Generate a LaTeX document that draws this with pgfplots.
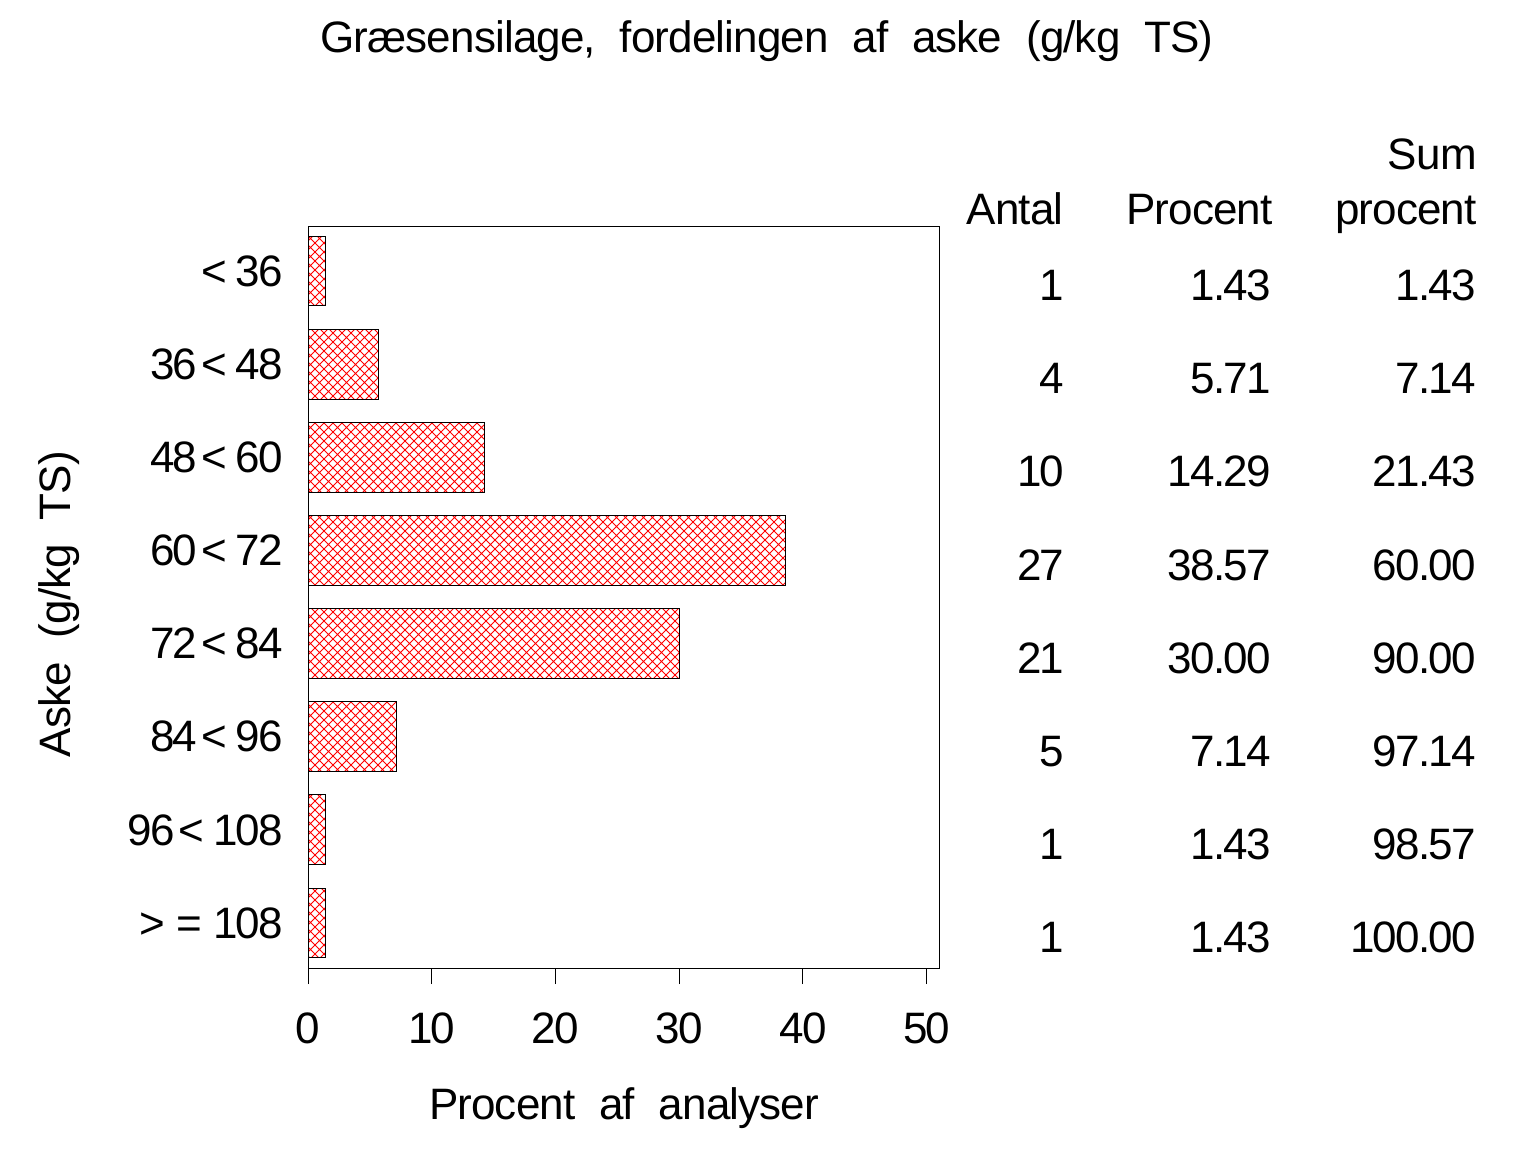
\documentclass[border=0pt]{standalone}
\usepackage{fontspec}
\setmainfont{Liberation Sans}[WordSpace=2.1, LetterSpace=-2]
\newfontfamily\numfont{Liberation Sans}[WordSpace=2.1, LetterSpace=-4]
\usepackage{pgfplots}
\pgfplotsset{compat=1.18}
\usepackage{pgfplotstable}
\usetikzlibrary{patterns}
\pgfdeclarepatternformonly{diagcross}{\pgfqpoint{-0.5pt}{-0.5pt}}{\pgfqpoint{5pt}{5pt}}{\pgfqpoint{4.5pt}{4.5pt}}{%
\pgfsetlinewidth{0.45pt}%
\pgfpathmoveto{\pgfqpoint{-0.2pt}{-0.2pt}}\pgfpathlineto{\pgfqpoint{4.7pt}{4.7pt}}%
\pgfpathmoveto{\pgfqpoint{-0.2pt}{4.7pt}}\pgfpathlineto{\pgfqpoint{4.7pt}{-0.2pt}}%
\pgfusepath{stroke}}

\pgfplotstableread{
idx pct antal pcts cum
0 1.43 1 1.43 1.43
1 5.71 4 5.71 7.14
2 14.29 10 14.29 21.43
3 38.57 27 38.57 60.00
4 30.00 21 30.00 90.00
5 7.14 5 7.14 97.14
6 1.43 1 1.43 98.57
7 1.43 1 1.43 100.00
}\data

\newcommand{\fs}{\fontsize{22}{26}\selectfont}
\newcommand{\fn}{\numfont\fontsize{22}{26}\selectfont}

\begin{document}
\begin{tikzpicture}[font=\fs]
\useasboundingbox (0,0) rectangle (768pt,576pt);
\begin{axis}[
  at={(154pt,92pt)}, anchor=south west, scale only axis,
  width=315.5pt, height=371pt,
  xmin=0, xmax=51, ymin=-0.483, ymax=7.483, y dir=reverse,
  axis line style={line width=0.5pt},
  tick pos=left, tick align=outside,
  xtick={0,10,20,30,40,50}, major tick length=8pt,
  xtick style={line width=0.5pt, black},
  ytick={0,1,2,3,4,5,6,7}, ytick style={draw=none},
  yticklabels={
    {<\kern4.5pt 36},
    {36\kern2pt<\kern4.5pt 48},
    {48\kern2pt<\kern4.5pt 60},
    {60\kern2pt<\kern4.5pt 72},
    {72\kern2pt<\kern4.5pt 84},
    {84\kern2pt<\kern4.5pt 96},
    {96\kern2pt<\kern4.5pt 108},
    {>\kern5.5pt=\kern5.5pt 108}},
  tick label style={font=\fn},
  xticklabel style={anchor=base, yshift=-29.5pt},
  yticklabel style={anchor=east, inner sep=0pt, xshift=-4.25pt},
  /pgf/number format/assume math mode=true,
  clip=false,
]
\addplot[xbar, bar width=0.75, bar shift=0pt, draw=black, line width=0.5pt,
  pattern=diagcross, pattern color=red] table[x=pct, y=idx] {\data};
\addplot[draw=none, mark=none, nodes near coords, point meta=explicit symbolic,
  nodes near coords style={anchor=base east, inner sep=0pt, yshift=-14.8pt, font=\fn}]
  table[x expr=61.15, y=idx, meta=antal] {\data};
\addplot[draw=none, mark=none, nodes near coords, point meta=explicit symbolic,
  nodes near coords style={anchor=base east, inner sep=0pt, yshift=-14.8pt, font=\fn}]
  table[x expr=77.87, y=idx, meta=pcts] {\data};
\addplot[draw=none, mark=none, nodes near coords, point meta=explicit symbolic,
  nodes near coords style={anchor=base east, inner sep=0pt, yshift=-14.8pt, font=\fn}]
  table[x expr=94.43, y=idx, meta=cum] {\data};
\end{axis}
\node[anchor=base, inner sep=0pt] at (383.5pt,549.5pt) {Græsensilage, fordelingen af aske (g/kg TS)};
\node[anchor=base, inner sep=0pt] at (312pt,16.5pt) {Procent af analyser};
\node[anchor=base, inner sep=0pt, rotate=90] at (35pt,274pt) {Aske (g/kg TS)};
\node[anchor=base east, inner sep=0pt] at (532pt,463.5pt) {Antal};
\node[anchor=base east, inner sep=0pt] at (636.5pt,463.5pt) {Procent};
\node[anchor=base east, inner sep=0pt] at (738.5pt,463.5pt) {procent};
\node[anchor=base east, inner sep=0pt] at (738.5pt,491pt) {Sum};
\end{tikzpicture}
\end{document}
